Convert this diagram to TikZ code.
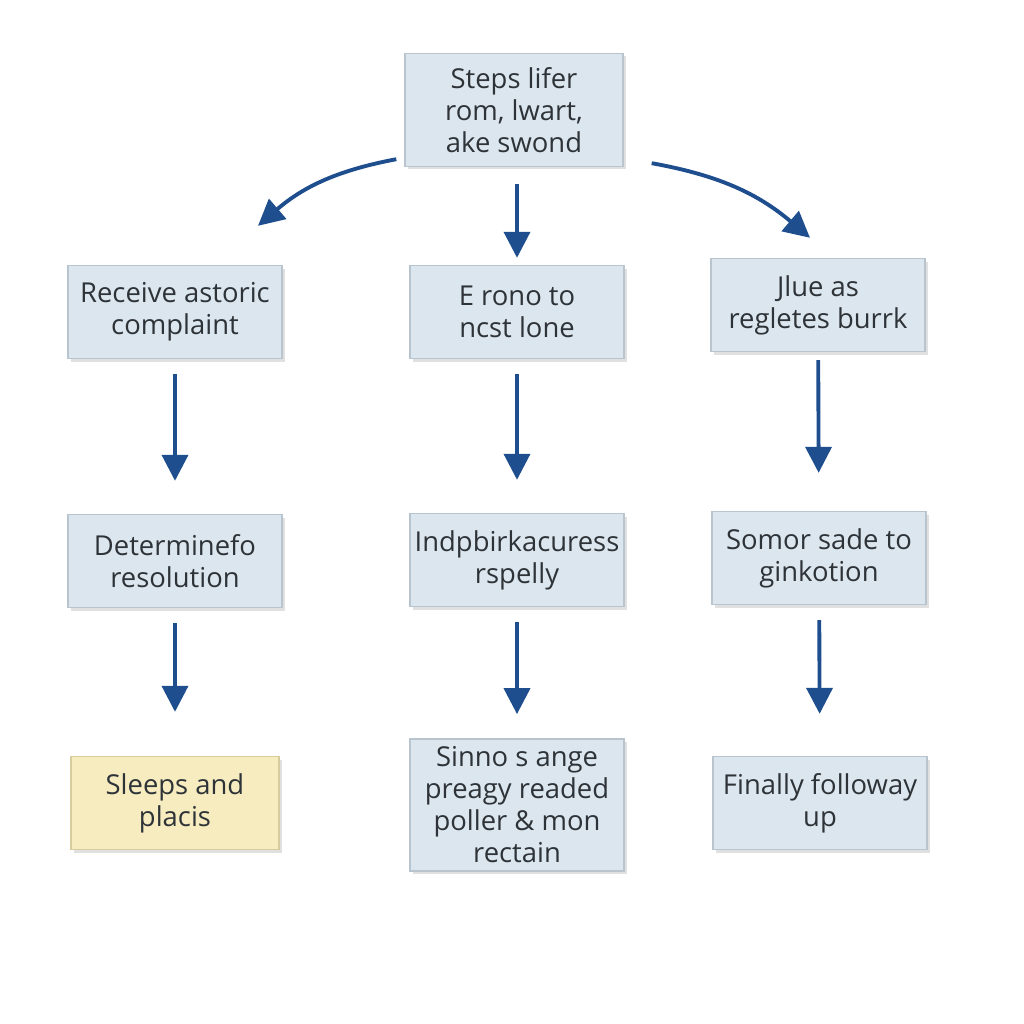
\documentclass[tikz,border=0pt]{standalone}
\usepackage{fontspec}
\setmainfont{Open Sans}
\usetikzlibrary{arrows.meta,shadows}

\definecolor{boxfill}{HTML}{DCE6EE}
\definecolor{boxline}{HTML}{B9C5CE}
\definecolor{warmfill}{HTML}{F6ECC0}
\definecolor{warmline}{HTML}{D6CC9E}
\definecolor{flowblue}{HTML}{1F4E8E}
\definecolor{textgray}{HTML}{2E3338}

\tikzset{
  box/.style={draw=boxline, fill=boxfill, minimum width=21.4mm, minimum height=9.3mm,
    align=center, inner xsep=0.4mm, inner ysep=0.8mm, text=textgray, font=\fontsize{7.8}{9.1}\selectfont,
    drop shadow={shadow xshift=0.25mm, shadow yshift=-0.3mm, fill=black, opacity=0.12}},
  warm/.style={fill=warmfill, draw=warmline, minimum width=20.8mm},
  flow/.style={color=flowblue, line width=1.1pt, -{Triangle[length=2.6mm,width=2.6mm]},
    shorten <=1.5mm, shorten >=3.3mm}
}

\begin{document}
\begin{tikzpicture}[x=0.1mm, y=-0.1mm]
  \useasboundingbox (0,0) rectangle (1024,1024);
  \node[box, minimum width=21.8mm, minimum height=11.3mm] (top) at (514,110) {Steps lifer\\ rom, lwart,\\ ake swond};

  \node[box] (l1) at (175,312) {Receive astoric\\ complaint};
  \node[box] (l2) at (175,561) {Determinefo\\ resolution};
  \node[box, warm] (l3) at (175,803) {Sleeps and\\ placis};

  \node[box] (c1) at (517,312) {E rono to\\ ncst lone};
  \node[box] (c2) at (517,560) {Indpbirkacuress\\ rspelly};
  \node[box] (c3) at (517,805) {Sinno s ange\\ preagy readed\\ poller \& mon\\ rectain};

  \node[box] (r1) at (818,305) {Jlue as\\ regletes burrk};
  \node[box] (r2) at (819,558) {Somor sade to\\ ginkotion};
  \node[box] (r3) at (820,803) {Finally followay\\ up};

  \path[flow]
    ([shift={(-8,-8)}]top.south west) edge[bend right=15, shorten <=0pt, shorten >=0pt] ([shift={(83,-39)}]l1.north)
    (top.south -| c1) edge[shorten <=1.7mm, shorten >=0.7mm] (c1)
    ([shift={(28,-4)}]top.south east) edge[bend left=15, shorten <=0pt, shorten >=0pt] ([shift={(-8,-20)}]r1.north)
    (l1) edge (l2)
    (l2) edge[shorten >=4.4mm] (l3)
    (c1) edge (c2)
    (c2) edge[shorten >=2.4mm] (c3)
    (r1) edge[shorten <=0.8mm, shorten >=3.8mm] (r2)
    (r2) edge[shorten >=4.2mm] (r3);
\end{tikzpicture}
\end{document}
